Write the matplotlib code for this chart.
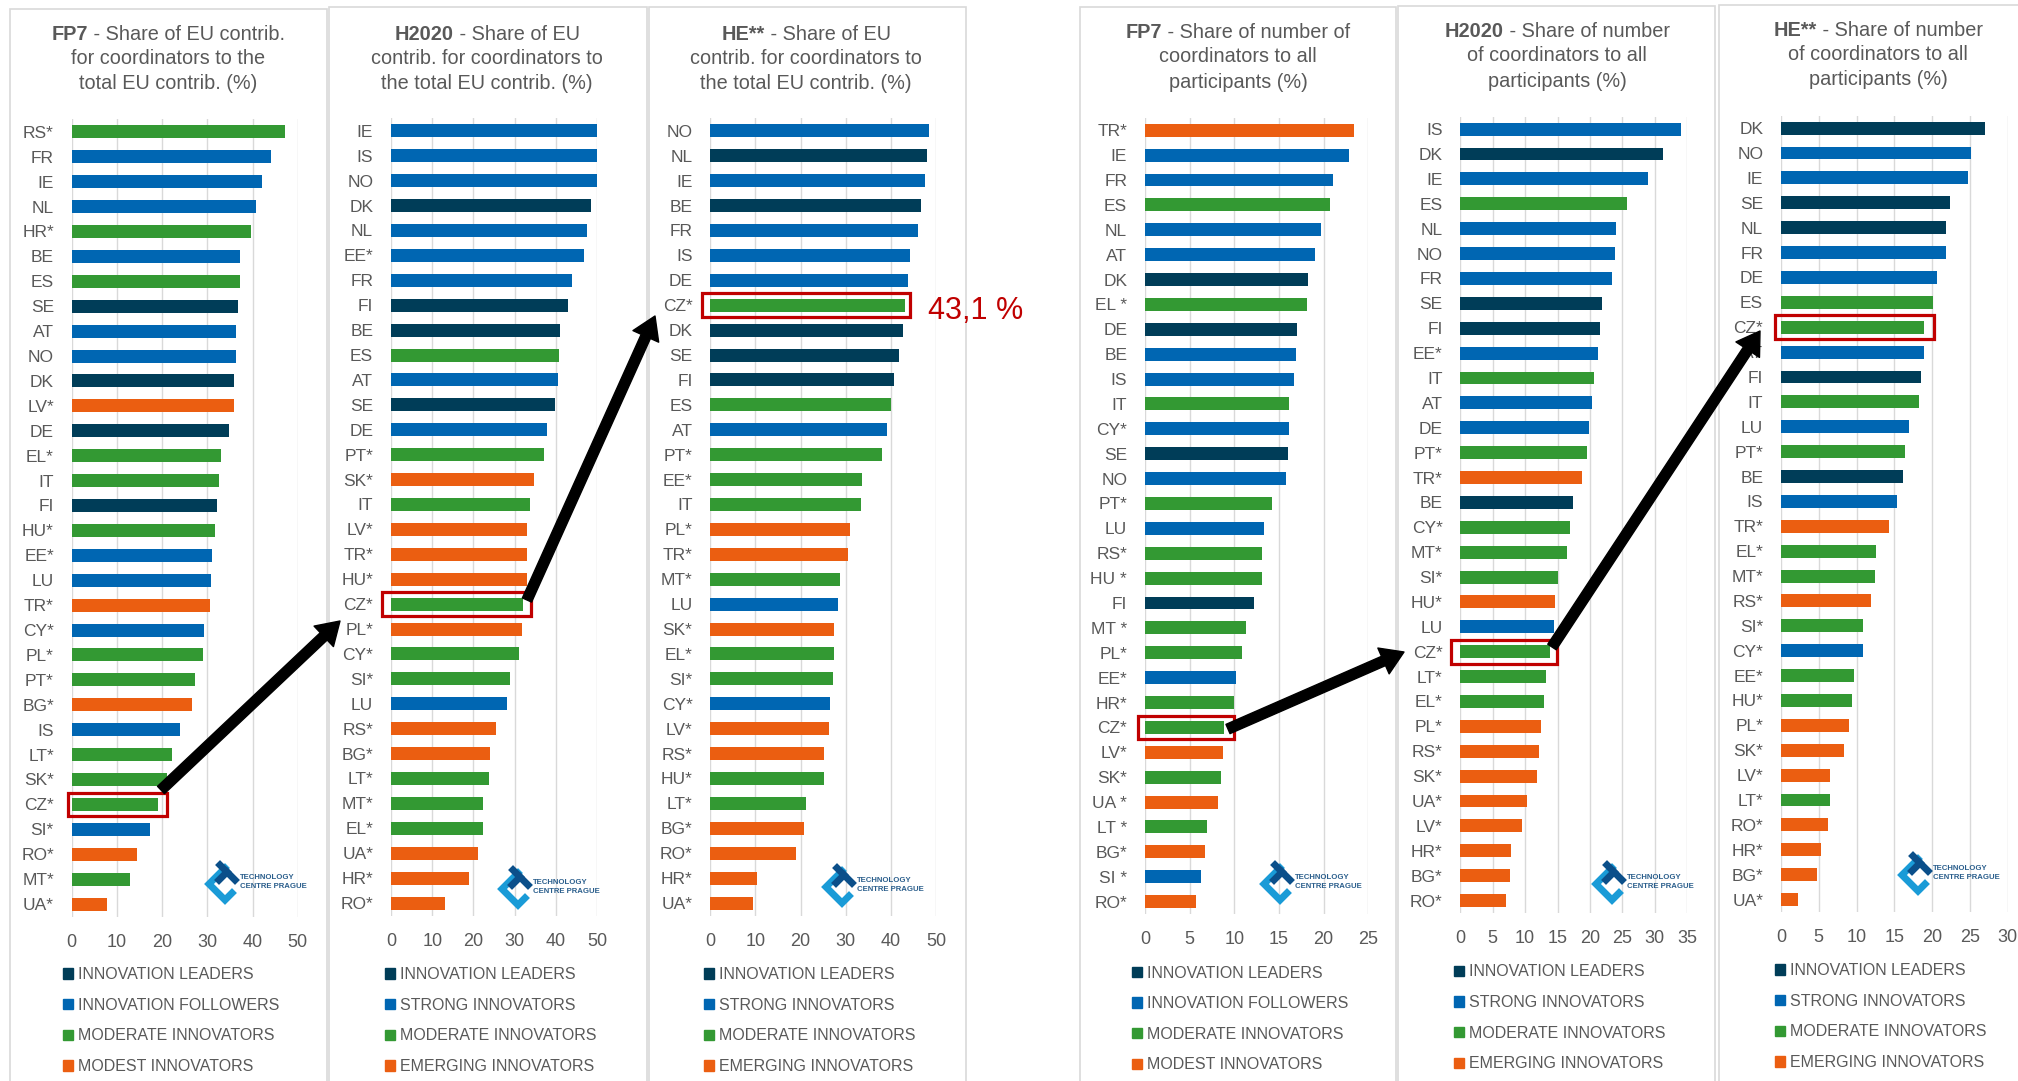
import matplotlib
matplotlib.use("Agg")
import matplotlib.pyplot as plt
from matplotlib.patches import Rectangle, FancyArrowPatch, Patch
from matplotlib.lines import Line2D

plt.rcParams['font.family'] = ['Liberation Sans', 'DejaVu Sans']

# ---- data ----
# group codes: L = leaders, S = strong / followers, M = moderate, E = emerging / modest
fp7_eu_countries = ["RS*", "FR", "IE", "NL", "HR*", "BE", "ES", "SE", "AT", "NO", "DK", "LV*",
                    "DE", "EL*", "IT", "FI", "HU*", "EE*", "LU", "TR*", "CY*", "PL*", "PT*", "BG*",
                    "IS", "LT*", "SK*", "CZ*", "SI*", "RO*", "MT*", "UA*"]
fp7_eu_values = [47.3, 44.0, 42.0, 40.8, 39.6, 37.2, 37.2, 36.7, 36.4, 36.4, 35.8, 35.8,
                 34.9, 33.1, 32.5, 32.2, 31.6, 31.0, 30.8, 30.5, 29.3, 29.0, 27.2, 26.6,
                 24.0, 22.2, 21.0, 19.2, 17.3, 14.5, 12.8, 7.7]
fp7_eu_groups = ["M", "S", "S", "S", "M", "S", "M", "L", "S", "S", "L", "E",
                 "L", "M", "M", "L", "M", "S", "S", "E", "S", "M", "M", "E",
                 "S", "M", "M", "M", "S", "E", "M", "E"]

h2020_eu_countries = ["IE", "IS", "NO", "DK", "NL", "EE*", "FR", "FI", "BE", "ES", "AT", "SE",
                      "DE", "PT*", "SK*", "IT", "LV*", "TR*", "HU*", "CZ*", "PL*", "CY*", "SI*", "LU",
                      "RS*", "BG*", "LT*", "MT*", "EL*", "UA*", "HR*", "RO*"]
h2020_eu_values = [51.8, 49.9, 49.9, 48.6, 47.6, 46.9, 44.0, 43.0, 41.1, 40.8, 40.5, 39.8,
                   37.9, 37.2, 34.6, 33.7, 33.0, 33.0, 33.0, 32.1, 31.7, 31.1, 28.8, 28.2,
                   25.6, 24.0, 23.7, 22.4, 22.4, 21.1, 18.9, 13.0]
h2020_eu_groups = ["S", "S", "S", "L", "S", "S", "S", "L", "L", "M", "S", "L",
                   "S", "M", "E", "M", "E", "E", "E", "M", "E", "M", "M", "S",
                   "E", "E", "M", "M", "M", "E", "E", "E"]

he_eu_countries = ["NO", "NL", "IE", "BE", "FR", "IS", "DE", "CZ*", "DK", "SE", "FI", "ES",
                   "AT", "PT*", "EE*", "IT", "PL*", "TR*", "MT*", "LU", "SK*", "EL*", "SI*", "CY*",
                   "LV*", "RS*", "HU*", "LT*", "BG*", "RO*", "HR*", "UA*"]
he_eu_values = [48.4, 48.1, 47.5, 46.6, 46.0, 44.2, 43.9, 43.1, 42.8, 41.9, 40.7, 40.1,
                39.2, 38.0, 33.6, 33.3, 30.9, 30.6, 28.7, 28.4, 27.5, 27.5, 27.2, 26.6,
                26.3, 25.1, 25.1, 21.3, 20.7, 18.9, 10.3, 9.5]
he_eu_groups = ["S", "L", "S", "L", "S", "S", "S", "M", "L", "L", "L", "M",
                "S", "M", "M", "M", "E", "E", "M", "S", "E", "M", "M", "S",
                "E", "E", "M", "M", "E", "E", "E", "E"]

fp7_nr_countries = ["TR*", "IE", "FR", "ES", "NL", "AT", "DK", "EL *", "DE", "BE", "IS", "IT",
                    "CY*", "SE", "NO", "PT*", "LU", "RS*", "HU *", "FI", "MT *", "PL*", "EE*", "HR*",
                    "CZ*", "LV*", "SK*", "UA *", "LT *", "BG*", "SI *", "RO*"]
fp7_nr_values = [23.4, 22.8, 21.0, 20.7, 19.7, 19.0, 18.2, 18.1, 17.0, 16.9, 16.7, 16.1,
                 16.1, 16.0, 15.8, 14.2, 13.3, 13.1, 13.1, 12.2, 11.3, 10.9, 10.2, 10.0,
                 8.8, 8.7, 8.5, 8.2, 6.9, 6.7, 6.3, 5.7]
fp7_nr_groups = ["E", "S", "S", "M", "S", "S", "L", "M", "L", "S", "S", "M",
                 "S", "L", "S", "M", "S", "M", "M", "L", "M", "M", "S", "M",
                 "M", "E", "M", "E", "M", "E", "S", "E"]

h2020_nr_countries = ["IS", "DK", "IE", "ES", "NL", "NO", "FR", "SE", "FI", "EE*", "IT", "AT",
                      "DE", "PT*", "TR*", "BE", "CY*", "MT*", "SI*", "HU*", "LU", "CZ*", "LT*", "EL*",
                      "PL*", "RS*", "SK*", "UA*", "LV*", "HR*", "BG*", "RO*"]
h2020_nr_values = [34.1, 31.2, 28.9, 25.7, 24.0, 23.8, 23.4, 21.8, 21.6, 21.2, 20.6, 20.3,
                   19.9, 19.5, 18.7, 17.3, 16.9, 16.4, 15.0, 14.6, 14.4, 13.8, 13.2, 12.9,
                   12.5, 12.1, 11.9, 10.3, 9.5, 7.8, 7.6, 7.0]
h2020_nr_groups = ["S", "L", "S", "M", "S", "S", "S", "L", "L", "S", "M", "S",
                   "S", "M", "E", "L", "M", "M", "M", "E", "S", "M", "M", "M",
                   "E", "E", "E", "E", "E", "E", "E", "E"]

he_nr_countries = ["DK", "NO", "IE", "SE", "NL", "FR", "DE", "ES", "CZ*", "AT", "FI", "IT",
                   "LU", "PT*", "BE", "IS", "TR*", "EL*", "MT*", "RS*", "SI*", "CY*", "EE*", "HU*",
                   "PL*", "SK*", "LV*", "LT*", "RO*", "HR*", "BG*", "UA*"]
he_nr_values = [27.0, 25.1, 24.7, 22.3, 21.9, 21.9, 20.7, 20.1, 18.9, 18.9, 18.5, 18.2,
                16.9, 16.4, 16.2, 15.4, 14.3, 12.6, 12.4, 11.9, 10.8, 10.8, 9.6, 9.4,
                9.0, 8.3, 6.5, 6.5, 6.2, 5.3, 4.8, 2.3]
he_nr_groups = ["L", "S", "S", "L", "L", "S", "S", "M", "M", "S", "L", "M",
                "S", "M", "L", "S", "E", "M", "M", "E", "M", "S", "M", "M",
                "E", "E", "E", "M", "E", "E", "E", "E"]

legend_fp7 = ["INNOVATION LEADERS", "INNOVATION FOLLOWERS", "MODERATE INNOVATORS", "MODEST INNOVATORS"]
legend_new = ["INNOVATION LEADERS", "STRONG INNOVATORS", "MODERATE INNOVATORS", "EMERGING INNOVATORS"]
cz_label = "43,1 %"

# ---- styling ----
W, H = 2018, 1081
GRAY = "#595959"
RED = "#C00000"
cmap = {"L": "#003D58", "S": "#0066B2", "M": "#339933", "E": "#EB5E11"}
TFS = 14.3

fig = plt.figure(figsize=(W / 100, H / 100), dpi=100)
renderer = fig.canvas.get_renderer()


def fx(x):
    return x / W


def fy(y):
    return 1 - y / H


def draw_title(cx, ys, bold, first, line2, line3):
    # ys are visual line centres; convert to baselines
    b = [y + 7 for y in ys]
    t1 = fig.text(0, fy(b[0]), bold, fontsize=TFS, weight="bold", color=GRAY, va="baseline")
    t2 = fig.text(0, fy(b[0]), first, fontsize=TFS, color=GRAY, va="baseline")
    w1 = t1.get_window_extent(renderer).width
    w2 = t2.get_window_extent(renderer).width
    left = cx - (w1 + w2) / 2
    t1.set_x(fx(left))
    t2.set_x(fx(left + w1))
    fig.text(fx(cx), fy(b[1]), line2, fontsize=TFS, color=GRAY, ha="center", va="baseline")
    fig.text(fx(cx), fy(b[2]), line3, fontsize=TFS, color=GRAY, ha="center", va="baseline")


def draw_logo(cx, cy):
    # rough "CT" mark: light blue chevron + dark blue tilted T
    xs = [fx(cx + 4), fx(cx - 12), fx(cx + 4), fx(cx + 11)]
    ys = [fy(cy - 14), fy(cy + 2), fy(cy + 18), fy(cy + 11)]
    fig.add_artist(Line2D(xs, ys, color="#1A9BD7", lw=5, solid_joinstyle="miter"))
    fig.add_artist(Line2D([fx(cx - 1), fx(cx + 14)], [fy(cy - 17), fy(cy - 2)],
                          color="#0B4F8A", lw=5))
    fig.add_artist(Line2D([fx(cx + 6), fx(cx - 2)], [fy(cy - 10), fy(cy - 2)],
                          color="#0B4F8A", lw=5))
    fig.text(fx(cx + 19), fy(cy), "TECHNOLOGY\nCENTRE PRAGUE", fontsize=5.6, weight="bold",
             color="#2A5E8C", va="center", linespacing=1.25,
             family=["Liberation Sans Narrow", "Liberation Sans", "DejaVu Sans"])


def draw_panel(box, title, ax_px, labels, values, groups, xmax, step,
               leg_labels, leg_px, cz_pads, logo):
    # panel frame
    bx0, by0, bx1 = box
    fig.add_artist(Rectangle((fx(bx0), fy(H + 20)), fx(bx1) - fx(bx0), fy(by0) - fy(H + 20),
                             transform=fig.transFigure, fill=False, ec="#D9D9D9", lw=1.2))
    draw_title(*title)

    x0, x1, top, bot = ax_px
    ax = fig.add_axes([fx(x0), fy(bot), (x1 - x0) / W, (bot - top) / H])
    n = len(values)
    ax.barh(range(n), values, height=0.52, color=[cmap[g] for g in groups], zorder=2)
    ax.set_ylim(n - 0.5, -0.5)
    ax.set_xlim(0, xmax)
    ax.set_xticks(range(0, xmax + 1, step))
    ax.set_yticks(range(n))
    ax.set_yticklabels(labels)
    ax.grid(axis="x", color="#D9D9D9", lw=1.0, zorder=0)
    ax.set_axisbelow(True)
    for s in ax.spines.values():
        s.set_visible(False)
    ax.tick_params(axis="y", length=0, pad=12.8, labelsize=12.5, labelcolor=GRAY)
    ax.tick_params(axis="x", length=0, pad=12.5, labelsize=13, labelcolor=GRAY)
    ax.patch.set_alpha(0)

    # red box around CZ*
    i = labels.index("CZ*")
    ppu = (x1 - x0) / xmax
    lp, rp = cz_pads
    ax.add_patch(Rectangle((-lp / ppu, i - 0.475), values[i] + (lp + rp) / ppu, 0.95,
                           fill=False, ec=RED, lw=2.3, clip_on=False, zorder=3))

    handles = [Patch(color=cmap[k]) for k in "LSME"]
    leg = ax.legend(handles, leg_labels, loc="upper left",
                    bbox_to_anchor=(fx(leg_px[0]), fy(leg_px[1])), bbox_transform=fig.transFigure,
                    frameon=False, fontsize=11.5, handlelength=0.62, handleheight=0.62,
                    handletextpad=0.32, labelspacing=0.98, borderpad=0, borderaxespad=0)
    for t in leg.get_texts():
        t.set_color(GRAY)
    draw_logo(*logo)
    return ax


draw_panel((10, 9, 327), (168, (33, 57, 82), "FP7", " - Share of EU contrib.",
                          "for coordinators to the", "total EU contrib. (%)"),
           (71.7, 297.7, 119.4, 916.5), fp7_eu_countries, fp7_eu_values, fp7_eu_groups, 50, 10,
           legend_fp7, (63, 967), (4, 9), (221, 882))
draw_panel((329, 7, 647), (487, (33, 57, 82), "H2020", " - Share of EU",
                           "contrib. for coordinators to", "the total EU contrib. (%)"),
           (391, 597, 118.4, 915.5), h2020_eu_countries, h2020_eu_values, h2020_eu_groups, 50, 10,
           legend_new, (385, 967), (9, 8), (514, 887))
draw_panel((649, 7, 966), (806, (33, 57, 82), "HE**", " - Share of EU",
                           "contrib. for coordinators to", "the total EU contrib. (%)"),
           (710.3, 936, 118.4, 915.5), he_eu_countries, he_eu_values, he_eu_groups, 50, 10,
           legend_new, (704, 967), (8, 5), (838, 885))
draw_panel((1080, 7, 1396), (1238, (31, 55, 81), "FP7", " - Share of number of",
                             "coordinators to all", "participants (%)"),
           (1145, 1368.3, 117.8, 914.0), fp7_nr_countries, fp7_nr_values, fp7_nr_groups, 25, 5,
           legend_fp7, (1132, 965.5), (7, 10), (1276, 882))
draw_panel((1398, 6, 1715), (1557, (30, 54, 80), "H2020", " - Share of number",
                             "of coordinators to all", "participants (%)"),
           (1460.3, 1687.3, 116.7, 913.0), h2020_nr_countries, h2020_nr_values, h2020_nr_groups, 35, 5,
           legend_new, (1454, 964.5), (9, 7), (1608, 882))
draw_panel((1719, 5, 2040), (1878, (29, 53, 78), "HE**", " - Share of number",
                             "of coordinators to all", "participants (%)"),
           (1781, 2007.7, 115.7, 912.0), he_nr_countries, he_nr_values, he_nr_groups, 30, 5,
           legend_new, (1775, 963), (6, 10), (1914, 873))

# value callout for CZ* in HE
fig.text(fx(928), fy(311), cz_label, color=RED, fontsize=22, va="center", ha="left")

# black arrows linking the CZ* bars
arrows = [((161, 790), (340, 621)), ((527, 600), (655, 316)),
          ((1228, 729), (1404, 652)), ((1552, 647), (1760, 331))]
for (xa, ya), (xb, yb) in arrows:
    fig.add_artist(FancyArrowPatch((fx(xa), fy(ya)), (fx(xb), fy(yb)), transform=fig.transFigure,
                                   arrowstyle="simple,head_width=1.45,head_length=1.15,tail_width=0.52",
                                   mutation_scale=14, color="black", shrinkA=0, shrinkB=0, zorder=10))

fig.savefig("out.png", dpi=100, facecolor="white")
